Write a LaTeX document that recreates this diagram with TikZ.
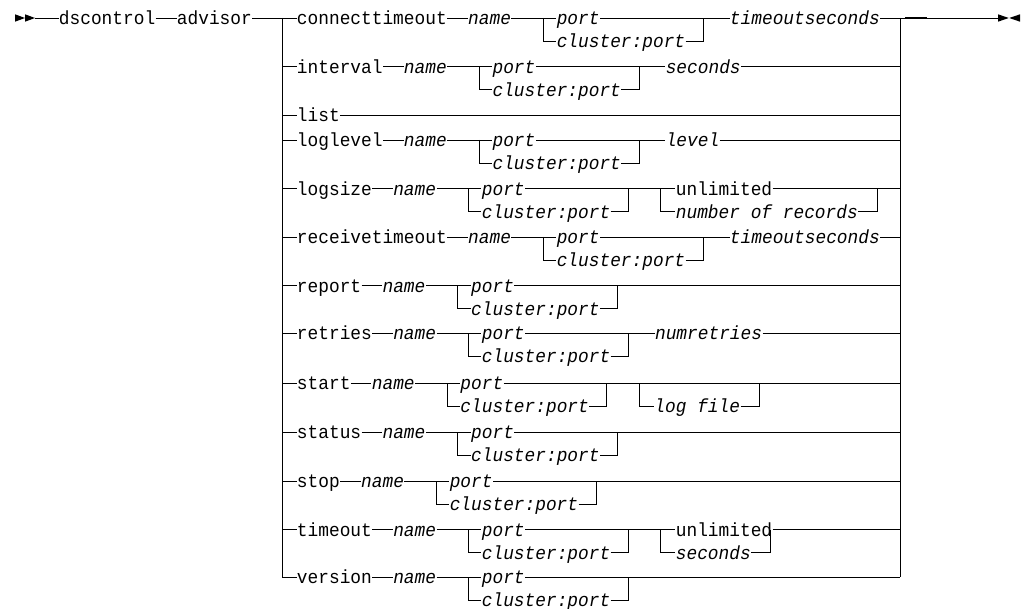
\documentclass[tikz,border=0pt]{standalone}
\usepackage{fontspec}
\usetikzlibrary{calc}
\newfontfamily\rrmono[FakeStretch=0.94]{Liberation Mono}
\tikzset{
  kw/.style={anchor=west, inner sep=0pt, text height=16.4pt, text depth=3pt,
             font={\rrmono\fontsize{18.97pt}{21pt}\selectfont}},
  var/.style={anchor=west, inner sep=0pt, text height=16.4pt, text depth=3pt,
             font={\rrmono\itshape\fontsize{18.97pt}{21pt}\selectfont}}
}
% standard row: keyword -- name -- (port | cluster:port)
\newcommand\optrow[4]{%
  \coordinate (l#1) at (282,#2);
  \coordinate (r#1) at (900,#2);
  \node[kw] (k#1) at (296.5,#2) {#3};
  \node[var] (n#1) at ({296.5+(#4+2)*10.7},#2) {name};
  \node[var] (p#1) at ({299.5+(#4+10)*10.7},#2) {port};
  \node[var] (c#1) at ({299.5+(#4+10)*10.7},{#2+23}) {cluster:port};
  \coordinate (a#1) at ($(p#1.west)+(-13,0)$);
  \coordinate (b#1) at ($(p#1.west)+(146.9,0)$);
  \draw (l#1) -- (k#1.west);
  \draw (k#1.east) -- (n#1.west);
  \draw (n#1.east) -- (p#1.west);
  \draw (a#1) |- (c#1.west);
  \draw (c#1.east) -| (b#1);
}
\begin{document}
\begin{tikzpicture}[x=1pt,y=-1pt,line width=0.9pt]
\useasboundingbox (0,0) rectangle (1024,609);
\fill[white] (0,0) rectangle (1024,609);

% start marker
\fill (15,14.3) -- (25,18) -- (15,21.7) -- cycle;
\fill (25,14.3) -- (35,18) -- (25,21.7) -- cycle;
\coordinate (s0) at (35,18);
\node[kw] (ds) at (58.5,18) {dscontrol};
\node[kw] (adv) at (176.5,18) {advisor};
\draw (s0) -- (ds.west);
\draw (ds.east) -- (adv.west);

% rails
\coordinate (lt) at (282,18); \coordinate (lb) at (282,577);
\coordinate (rt) at (900,18); \coordinate (rb) at (900,577);
\draw (lt) -- (lb);
\draw (rt) -- (rb);

% row 1
\optrow{1}{18}{connecttimeout}{14}
\draw (adv.east) -- (l1);
\node[var] (x1) at ($(p1.west)+(173.2,0)$) {timeoutseconds};
\draw (p1.east) -- (x1.west);
\coordinate (e0) at (998,18);
\draw (x1.east) -- (e0);
\coordinate (t0) at (905,18); \coordinate (t1) at (927,18);
\draw[line width=1.8pt] (t0) -- (t1);
% end marker
\fill (998,14.3) -- (1008.7,18) -- (998,21.7) -- cycle;
\fill (1020,14.3) -- (1009.3,18) -- (1020,21.7) -- cycle;

% row 2
\optrow{2}{66.5}{interval}{8}
\node[var] (x2) at ($(p2.west)+(173.2,0)$) {seconds};
\draw (p2.east) -- (x2.west);
\draw (x2.east) -- (r2);

% row 3
\coordinate (l3) at (282,115); \coordinate (r3) at (900,115);
\node[kw] (k3) at (296.5,115) {list};
\draw (l3) -- (k3.west);
\draw (k3.east) -- (r3);

% row 4
\optrow{4}{140}{loglevel}{8}
\node[var] (x4) at ($(p4.west)+(173.2,0)$) {level};
\draw (p4.east) -- (x4.west);
\draw (x4.east) -- (r4);

% row 5
\optrow{5}{188.5}{logsize}{7}
\coordinate (f5) at ($(p5.west)+(179,0)$);
\node[kw] (u5) at ($(p5.west)+(194,0)$) {unlimited};
\node[var] (m5) at ($(p5.west)+(194,23)$) {number of records};
\coordinate (g5) at ($(m5.east)+(19,-23)$);
\draw (p5.east) -- (u5.west);
\draw (u5.east) -- (r5);
\draw (f5) |- (m5.west);
\draw (m5.east) -| (g5);

% row 6
\optrow{6}{237}{receivetimeout}{14}
\node[var] (x6) at ($(p6.west)+(173.2,0)$) {timeoutseconds};
\draw (p6.east) -- (x6.west);
\draw (x6.east) -- (r6);

% row 7
\optrow{7}{285.5}{report}{6}
\draw (p7.east) -- (r7);

% row 8
\optrow{8}{333}{retries}{7}
\node[var] (x8) at ($(p8.west)+(173.2,0)$) {numretries};
\draw (p8.east) -- (x8.west);
\draw (x8.east) -- (r8);

% row 9
\optrow{9}{383}{start}{5}
\coordinate (f9) at ($(p9.west)+(179,0)$);
\node[var] (m9) at ($(p9.west)+(194,23)$) {log file};
\coordinate (g9) at ($(m9.east)+(19,-23)$);
\draw (p9.east) -- (r9);
\draw (f9) |- (m9.west);
\draw (m9.east) -| (g9);

% row 10
\optrow{10}{432}{status}{6}
\draw (p10.east) -- (r10);

% row 11
\optrow{11}{481}{stop}{4}
\draw (p11.east) -- (r11);

% row 12
\optrow{12}{529.5}{timeout}{7}
\coordinate (f12) at ($(p12.west)+(179,0)$);
\node[kw] (u12) at ($(p12.west)+(194,0)$) {unlimited};
\node[var] (m12) at ($(p12.west)+(194,23)$) {seconds};
\coordinate (g12) at ($(m12.east)+(19,-23)$);
\draw (p12.east) -- (u12.west);
\draw (u12.east) -- (r12);
\draw (f12) |- (m12.west);
\draw (m12.east) -| (g12);

% row 13
\optrow{13}{577}{version}{7}
\draw (p13.east) -- (r13);
\end{tikzpicture}
\end{document}
